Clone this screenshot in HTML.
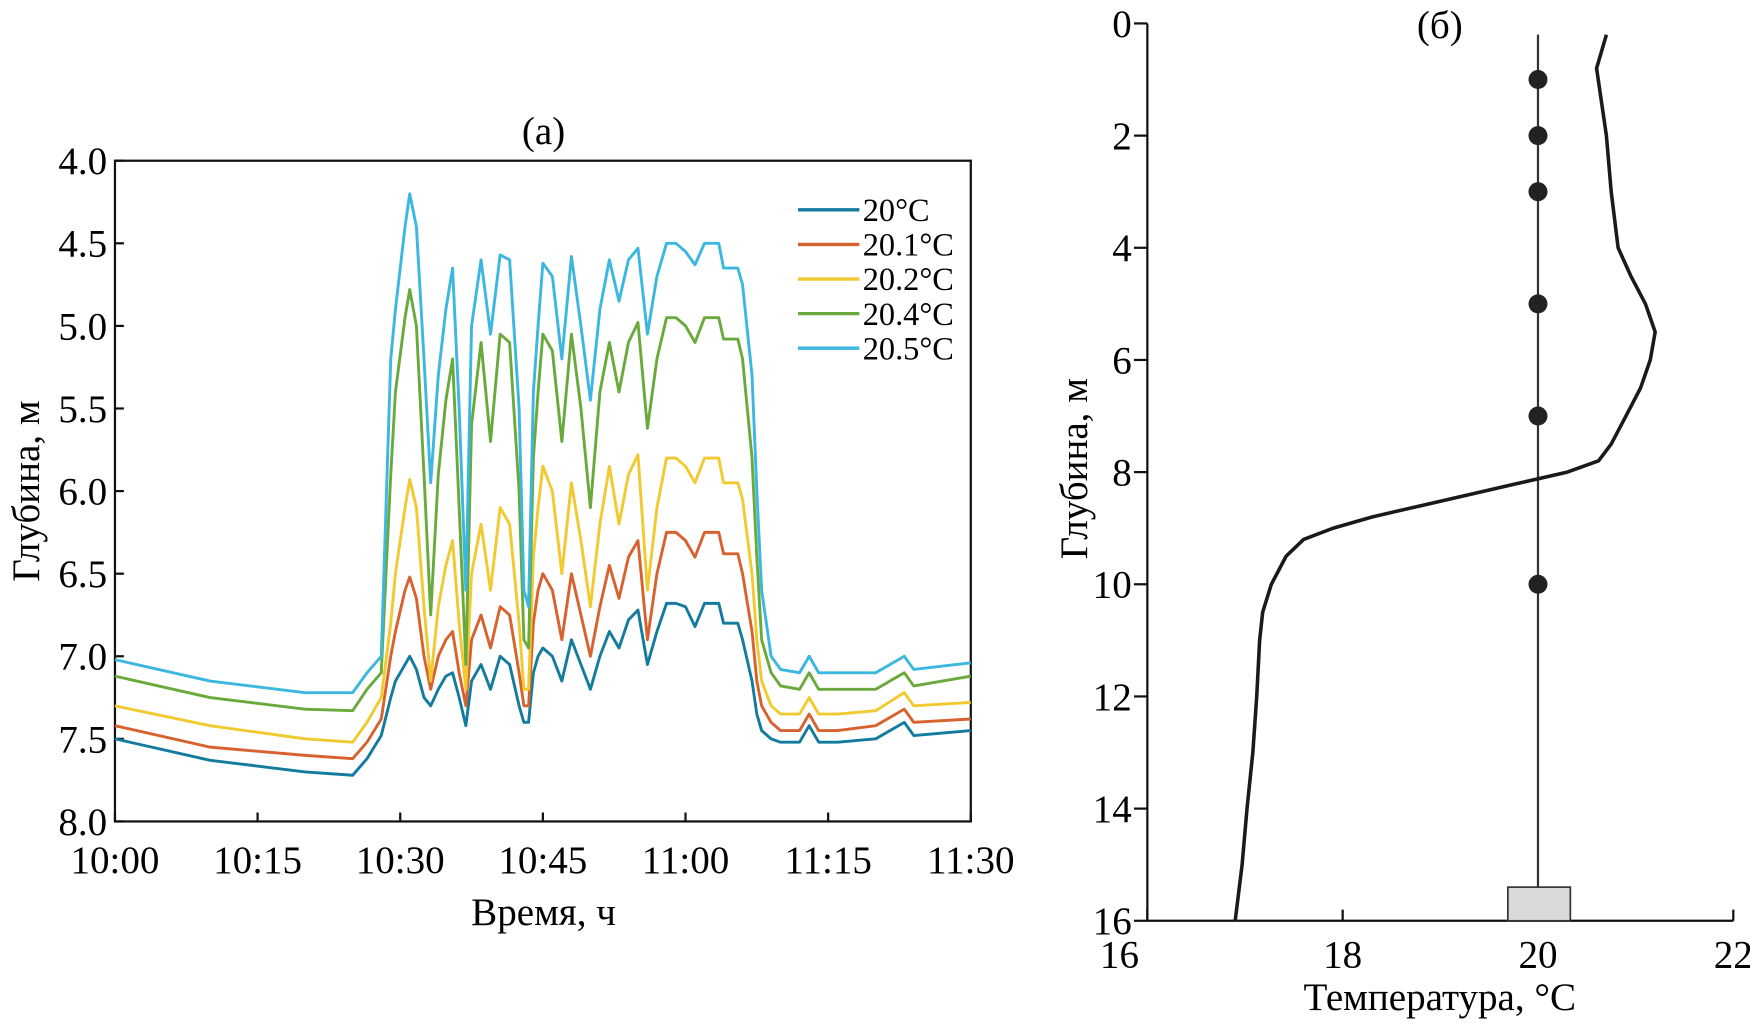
<!DOCTYPE html>
<html><head><meta charset="utf-8">
<style>
html,body{margin:0;padding:0;background:#fff;}
svg{display:block;font-family:"Liberation Serif",serif;}
</style></head>
<body>
<svg id="chart" width="1750" height="1023" viewBox="0 0 1750 1023" xmlns="http://www.w3.org/2000/svg">
<g transform="scale(1.1161)">
<g id="left"></g>
<g id="right"></g>
</g>
</svg>
<script>
// ---- Panel (a) data ----
const timesMin = [0,10,20,25,26.5,28,29,29.5,30.5,31,31.7,32.5,33.2,34,34.8,35.5,36.2,36.9,37.5,38.5,39.5,40.5,41.5,42.5,43,43.5,44,44.5,45,46,47,48,49,50,51,52,53,54,55,56,57,58,59,60,61,62,63.5,64,65.5,66,67,67.5,68,69,70,72,73,74,76,80,83,84,90];
const depth205 = [7.02,7.15,7.22,7.22,7.1,7.0,5.2,4.9,4.4,4.2,4.4,5.2,5.95,5.3,4.9,4.65,5.5,6.6,5.0,4.6,5.05,4.57,4.6,5.5,6.6,6.7,5.4,5.0,4.62,4.7,5.2,4.58,5.0,5.45,4.9,4.6,4.85,4.6,4.53,5.05,4.7,4.5,4.5,4.55,4.63,4.5,4.5,4.65,4.65,4.75,5.3,6.0,6.6,7.0,7.08,7.1,7.0,7.1,7.1,7.1,7.0,7.08,7.04];
const depth204 = [7.12,7.25,7.32,7.33,7.2,7.1,5.9,5.4,4.95,4.78,5.0,5.9,6.75,5.9,5.45,5.2,6.1,7.05,5.6,5.1,5.7,5.05,5.1,6.0,6.9,6.95,5.8,5.4,5.05,5.15,5.7,5.05,5.5,6.1,5.4,5.1,5.4,5.1,4.98,5.62,5.2,4.95,4.95,5.0,5.1,4.95,4.95,5.08,5.08,5.2,5.8,6.4,6.9,7.1,7.18,7.2,7.1,7.2,7.2,7.2,7.1,7.18,7.12];
const depth202 = [7.3,7.42,7.5,7.52,7.4,7.25,6.8,6.5,6.1,5.93,6.1,6.7,7.15,6.7,6.45,6.3,6.8,7.2,6.5,6.2,6.6,6.1,6.2,6.8,7.2,7.2,6.4,6.1,5.85,6.0,6.5,5.95,6.3,6.7,6.2,5.85,6.2,5.9,5.78,6.6,6.1,5.8,5.8,5.85,5.95,5.8,5.8,5.95,5.95,6.05,6.5,6.9,7.15,7.3,7.35,7.35,7.25,7.35,7.35,7.33,7.22,7.3,7.28];
const depth201 = [7.42,7.55,7.6,7.62,7.52,7.38,7.0,6.85,6.6,6.52,6.65,7.0,7.2,7.0,6.9,6.85,7.1,7.3,6.9,6.75,6.95,6.7,6.75,7.1,7.3,7.3,6.8,6.6,6.5,6.6,6.9,6.5,6.75,7.0,6.7,6.45,6.65,6.4,6.3,6.9,6.5,6.25,6.25,6.3,6.4,6.25,6.25,6.38,6.38,6.5,6.85,7.15,7.3,7.4,7.45,7.45,7.35,7.45,7.45,7.42,7.32,7.4,7.38];
const depth200 = [7.5,7.63,7.7,7.72,7.62,7.48,7.25,7.15,7.05,7.0,7.08,7.25,7.3,7.2,7.12,7.1,7.25,7.42,7.15,7.05,7.2,7.0,7.05,7.3,7.4,7.4,7.1,7.0,6.95,7.0,7.15,6.9,7.05,7.2,7.0,6.85,6.95,6.78,6.72,7.05,6.85,6.68,6.68,6.7,6.82,6.68,6.68,6.8,6.8,6.9,7.15,7.35,7.45,7.5,7.52,7.52,7.42,7.52,7.52,7.5,7.4,7.48,7.45];
const seriesLabels = ["20°C","20.1°C","20.2°C","20.4°C","20.5°C"];
const yTicksA = [4.0,4.5,5.0,5.5,6.0,6.5,7.0,7.5,8.0];
const xTickLabelsA = ["10:00","10:15","10:30","10:45","11:00","11:15","11:30"];
const xTickMinA = [0,15,30,45,60,75,90];

// ---- Panel (b) data ----
const profDepth = [0.2,0.5,0.8,2,3,4,4.5,5,5.5,6,6.5,7,7.5,7.8,8.0,8.2,8.4,8.6,8.8,9.0,9.2,9.5,10,10.5,11,12,13,14,15,16];
const profTemp  = [20.7,20.65,20.6,20.7,20.75,20.82,20.95,21.1,21.2,21.15,21.05,20.9,20.75,20.62,20.3,19.8,19.3,18.8,18.3,17.9,17.6,17.42,17.27,17.18,17.15,17.12,17.08,17.02,16.97,16.9];
const sensorDepth = [1,2,3,5,7,10];
const yTicksB = [0,2,4,6,8,10,12,14,16];
const xTicksB = [16,18,20,22];

const FS=35;
const NS="http://www.w3.org/2000/svg";
function mk(parent,tag,attrs,text){const e=document.createElementNS(NS,tag);for(const k in attrs)e.setAttribute(k,attrs[k]);if(text!==undefined)e.textContent=text;parent.appendChild(e);return e;}

// Panel A
const A=document.getElementById('left');
const ax=m=>103+m*8.52;
const ay=d=>144+(d-4)*148;
let r=mk(A,'rect',{x:ax(0),y:ay(4),width:ax(90)-ax(0),height:ay(8)-ay(4),fill:'none',stroke:'#111','stroke-width':2});


yTicksA.forEach(v=>{
  let t=mk(A,'line',{x1:ax(0),x2:ax(0)+8,y1:ay(v),y2:ay(v),stroke:'#111','stroke-width':2});
  
  
  let l=mk(A,'text',{x:96,y:ay(v)+12,'text-anchor':'end','font-size':FS},v.toFixed(1));
  
  
});
xTickMinA.forEach((m,i)=>{
  let t=mk(A,'line',{x1:ax(m),x2:ax(m),y1:ay(8),y2:ay(8)-8,stroke:'#111','stroke-width':2});
  
  
  let l=mk(A,'text',{x:ax(m),y:782,'text-anchor':'middle','font-size':FS},xTickLabelsA[i]);
  
  
});
const colors=['#137b9e','#d8622f','#f1c930','#6aaa3c','#3bb7e0'];
const data=[depth200,depth201,depth202,depth204,depth205];
data.forEach((arr,si)=>{
  const pts=arr.map((d,i)=>ax(timesMin[i]).toFixed(1)+','+ay(d).toFixed(1)).join(' ');
  let p=mk(A,'polyline',{points:pts,fill:'none',stroke:colors[si],'stroke-width':2.6,'stroke-linejoin':'round'});
  
  
  const ly=188+si*31;
  let ll=mk(A,'line',{x1:715,x2:770,y1:ly,y2:ly,stroke:colors[si],'stroke-width':3});
  
  
  let lt=mk(A,'text',{x:773,y:ly+10,'font-size':29},seriesLabels[si]);
  
  
});
let ta=mk(A,'text',{x:487,y:129,'text-anchor':'middle','font-size':FS},'(а)');


let xa=mk(A,'text',{x:487,y:829,'text-anchor':'middle','font-size':FS},'Время, ч');


let ya=mk(A,'text',{x:0,y:0,'text-anchor':'middle','font-size':FS,transform:'translate(35,440) rotate(-90)'},'Глубина, м');



// Panel B
const B=document.getElementById('right');
const bx=t=>1028+(t-16)*87.5;
const by=d=>21+d*50.25;
let yl=mk(B,'line',{x1:bx(16),x2:bx(16),y1:by(0),y2:by(16),stroke:'#111','stroke-width':2});


let xl=mk(B,'line',{x1:bx(16),x2:bx(22),y1:by(16),y2:by(16),stroke:'#111','stroke-width':2});


yTicksB.forEach(v=>{
  let t=mk(B,'line',{x1:bx(16)-12,x2:bx(16),y1:by(v),y2:by(v),stroke:'#111','stroke-width':2});
  
  
  let l=mk(B,'text',{x:1014,y:by(v)+12,'text-anchor':'end','font-size':FS},String(v));
  
  
});
xTicksB.forEach(v=>{
  let t=mk(B,'line',{x1:bx(v),x2:bx(v),y1:by(16),y2:by(16)-10,stroke:'#111','stroke-width':2});
  
  
  let l=mk(B,'text',{x:v===16?1003:bx(v),y:867,'text-anchor':'middle','font-size':FS},String(v));
  
  
});
let ml=mk(B,'line',{x1:bx(20),x2:bx(20),y1:by(0.2),y2:by(15.4),stroke:'#333','stroke-width':2});


let anc=mk(B,'rect',{x:bx(20)-27,y:by(15.4),width:56,height:by(16)-by(15.4),fill:'#d9d9d9',stroke:'#333','stroke-width':1.5});


sensorDepth.forEach(d=>{
  let c=mk(B,'circle',{cx:bx(20),cy:by(d),r:8.5,fill:'#222'});
  
  
});
const ppts=profDepth.map((d,i)=>bx(profTemp[i]).toFixed(1)+','+by(d).toFixed(1)).join(' ');
let pr=mk(B,'polyline',{points:ppts,fill:'none',stroke:'#1a1a1a','stroke-width':3.2,'stroke-linejoin':'round'});


let tb=mk(B,'text',{x:1290,y:34,'text-anchor':'middle','font-size':FS},'(б)');


let xb=mk(B,'text',{x:1290,y:905,'text-anchor':'middle','font-size':FS},'Температура, °C');


let yb=mk(B,'text',{x:0,y:0,'text-anchor':'middle','font-size':FS,transform:'translate(974,420) rotate(-90)'},'Глубина, м');


</script>
</body></html>
